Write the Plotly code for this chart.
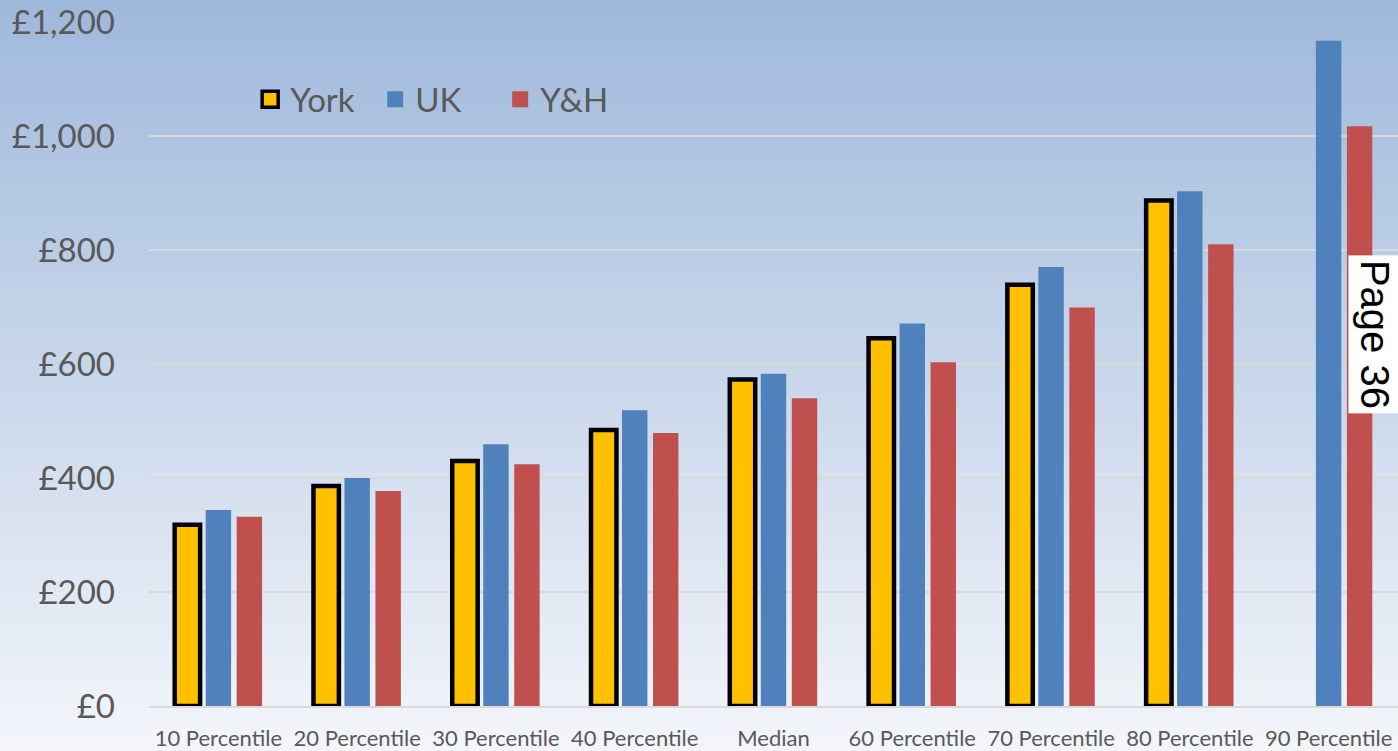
import plotly.graph_objects as go

categories = ["10 Percentile", "20 Percentile", "30 Percentile", "40 Percentile", "Median",
              "60 Percentile", "70 Percentile", "80 Percentile", "90 Percentile"]
york = [318, 386, 430, 484, 573, 645, 739, 887, None]
uk = [344, 400, 459, 519, 583, 671, 770, 903, 1167]
yh = [332, 377, 424, 479, 540, 603, 699, 810, 1017]
y_ticks = [0, 200, 400, 600, 800, 1000, 1200]
y_tick_text = ["£0", "£200", "£400", "£600", "£800", "£1,000", "£1,200"]

FONT = "Lato, Calibri, sans-serif"
YORK_C, UK_C, YH_C = "#FFC000", "#4F81BD", "#C0504D"

fig = go.Figure()
fig.add_trace(go.Bar(name="York", x=categories, y=york, showlegend=False,
                     marker=dict(color=YORK_C, line=dict(color="black", width=4.5))))
fig.add_trace(go.Bar(name="UK", x=categories, y=uk, showlegend=False,
                     marker=dict(color=UK_C, line=dict(width=0))))
fig.add_trace(go.Bar(name="Y&H", x=categories, y=yh, showlegend=False,
                     marker=dict(color=YH_C, line=dict(width=0))))

# legend-only entries (larger square symbols)
for name, col, lw in [("York", YORK_C, 3.5), ("UK", UK_C, 0), ("Y&H", YH_C, 0)]:
    fig.add_trace(go.Scatter(name=name, x=[None], y=[None], mode="markers",
                             marker=dict(symbol="square", size=16, color=col,
                                         line=dict(color="black", width=lw))))

# background vertical gradient
def lerp(a, b, t):
    return int(round(a + (b - a) * t))
top = (158, 184, 219)
bot = (243, 245, 250)
n = 60
shapes = []
for i in range(n):
    t = i / (n - 1)
    c = tuple(lerp(top[k], bot[k], t) for k in range(3))
    shapes.append(dict(type="rect", xref="paper", yref="paper", layer="below",
                       x0=-0.2, x1=1.1, y0=1.05 - (i + 1) * 1.12 / n, y1=1.05 - i * 1.12 / n + 0.002,
                       fillcolor="rgb(%d,%d,%d)" % c, line=dict(width=0)))

fig.update_layout(
    width=1398, height=751,
    margin=dict(l=149, r=0, t=22, b=42),
    paper_bgcolor="rgba(0,0,0,0)", plot_bgcolor="rgba(0,0,0,0)",
    barmode="group", bargap=0.33, bargroupgap=0.18,
    shapes=shapes,
    font=dict(family=FONT, color="#595959"),
    showlegend=True,
    legend=dict(orientation="h", x=0.081, y=0.928, xanchor="left", yanchor="top",
                font=dict(size=33, color="#595959", family=FONT),
                bgcolor="rgba(0,0,0,0)", traceorder="normal", itemwidth=30,
                entrywidth=80, entrywidthmode="pixels"),
    yaxis=dict(range=[0, 1200], tickmode="array", tickvals=y_ticks, ticktext=y_tick_text,
               tickfont=dict(size=33, color="#595959"), showgrid=True,
               gridcolor="#D9D9D9", gridwidth=1.5, zeroline=False, showline=False,
               ticklabelstandoff=33),
    xaxis=dict(tickfont=dict(size=22, color="#595959"), showline=True, linecolor="#D9D9D9",
               linewidth=1.5, ticks="", ticklabelstandoff=12),
    annotations=[dict(text="Page 36", textangle=90, xref="paper", yref="paper",
                      x=0.9816, y=0.544, xanchor="center", yanchor="middle",
                      showarrow=False, bgcolor="white",
                      font=dict(size=40, color="black", family="Liberation Sans, Arial"),
                      borderpad=4)],
)

fig.write_html("out.html", post_script="document.body.style.margin='0';",
               config={"displayModeBar": False})
